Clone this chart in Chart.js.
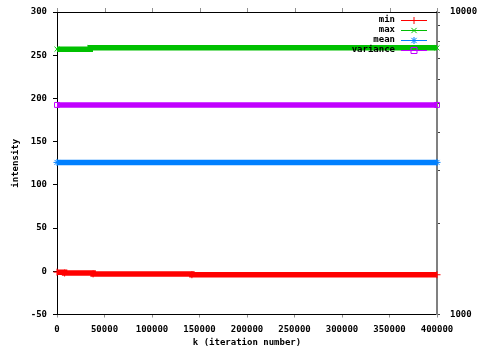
<!DOCTYPE html>
<html>
<head>
<meta charset="utf-8">
<style>
  html, body { margin: 0; padding: 0; background: #fff; }
  canvas { display: block; }
</style>
<script src="https://cdn.jsdelivr.net/npm/chart.js@4.4.1/dist/chart.umd.min.js"></script>
</head>
<body>
<canvas id="c" width="480" height="353"></canvas>
<script>
// Per-iteration intensity statistics (step changes at the listed iterations)
const minIter = [0, 8000, 38000, 142000, 400000];
const minVals = [-1, -2, -3, -4, -4];
const maxIter = [0, 35000, 400000];
const maxVals = [257, 258.5, 258.5];
const meanIter = [0, 400000];
const meanVals = [126, 126];
const varIter = [0, 400000];
const varVals = [4930, 4930];

const seriesLabels = ['min', 'max', 'mean', 'variance'];
const seriesColors = ['#ff0000', '#00c000', '#0080ff', '#c000ff'];
const seriesMarkers = ['cross', 'crossRot', 'star', 'rect'];

const xTickValues = [0, 50000, 100000, 150000, 200000, 250000, 300000, 350000, 400000];
const yTickValues = [-50, 0, 50, 100, 150, 200, 250, 300];
const y2TickValues = [1000, 2000, 3000, 4000, 5000, 6000, 7000, 8000, 9000, 10000];
const y2LabelValues = [1000, 10000];

const FONT = 'DejaVu Sans Mono';
Chart.defaults.font.family = FONT;
Chart.defaults.font.size = 9;
Chart.defaults.font.weight = 'bold';
Chart.defaults.color = '#000';

function pts(xs, ys) { return xs.map((x, i) => ({ x: x, y: ys[i] })); }

function drawMarker(ctx, style, x, y, r) {
  ctx.beginPath();
  if (style === 'cross' || style === 'star') {
    ctx.moveTo(x - r, y); ctx.lineTo(x + r, y);
    ctx.moveTo(x, y - r); ctx.lineTo(x, y + r);
  }
  if (style === 'crossRot' || style === 'star') {
    const d = r * 0.75;
    ctx.moveTo(x - d, y - d); ctx.lineTo(x + d, y + d);
    ctx.moveTo(x - d, y + d); ctx.lineTo(x + d, y - d);
  }
  if (style === 'rect') {
    ctx.rect(x - r + 0.5, y - r + 0.5, 2 * r - 1, 2 * r - 1);
  }
  ctx.stroke();
}

// Key in the upper right: label, then a line sample with its marker
const keyPlugin = {
  id: 'keyBox',
  afterDraw(chart) {
    const ctx = chart.ctx;
    ctx.save();
    ctx.font = 'bold 9px "' + FONT + '"';
    ctx.textAlign = 'right';
    ctx.textBaseline = 'middle';
    chart.data.datasets.forEach((ds, i) => {
      const y = 20 + i * 10;
      ctx.fillStyle = '#000';
      ctx.fillText(ds.label, 395, y);
      ctx.strokeStyle = ds.borderColor;
      ctx.lineWidth = 1;
      ctx.beginPath();
      ctx.moveTo(401, y + 0.5); ctx.lineTo(427, y + 0.5);
      ctx.stroke();
      drawMarker(ctx, ds.pointStyle, 414, y + 0.5, 3.5);
    });
    ctx.restore();
  }
};

// Top border with mirrored x tick marks
const frameTop = {
  id: 'frameTop',
  afterDraw(chart) {
    const { ctx, chartArea } = chart;
    const xs = chart.scales.x;
    ctx.save();
    ctx.strokeStyle = '#000';
    ctx.lineWidth = 1;
    ctx.beginPath();
    ctx.moveTo(chartArea.left, chartArea.top + 0.5);
    ctx.lineTo(chartArea.right, chartArea.top + 0.5);
    ctx.stroke();
    ctx.strokeStyle = '#909090';
    ctx.beginPath();
    xTickValues.forEach(v => {
      const px = Math.round(xs.getPixelForValue(v)) + 0.5;
      ctx.moveTo(px, chartArea.top);
      ctx.lineTo(px, chartArea.top - 4);
    });
    ctx.stroke();
    ctx.restore();
  }
};

// Fixed axis box sizes so the plot frame stays put
function fixBox(w, h) {
  return s => {
    if (w != null) s.width = w;
    if (h != null) s.height = h;
    s.paddingTop = 0; s.paddingBottom = 0;
    s.paddingLeft = 0; s.paddingRight = 0;
  };
}

const datasets = [
  [minIter, minVals, 'y'],
  [maxIter, maxVals, 'y'],
  [meanIter, meanVals, 'y'],
  [varIter, varVals, 'y2']
].map((s, i) => ({
  label: seriesLabels[i],
  data: pts(s[0], s[1]),
  yAxisID: s[2],
  borderColor: seriesColors[i],
  backgroundColor: 'rgba(0,0,0,0)',
  borderWidth: 5.5,
  stepped: 'before',
  pointStyle: seriesMarkers[i],
  pointRadius: 3.5,
  pointBorderWidth: 1,
  pointBorderColor: seriesColors[i],
  pointBackgroundColor: 'rgba(0,0,0,0)',
  clip: false
}));

new Chart(document.getElementById('c'), {
  type: 'line',
  data: { datasets: datasets },
  plugins: [frameTop, keyPlugin],
  options: {
    responsive: false,
    animation: false,
    devicePixelRatio: 1,
    layout: { padding: { top: 12, left: 0, right: 0, bottom: 0 } },
    plugins: { legend: { display: false }, tooltip: { enabled: false } },
    scales: {
      x: {
        type: 'linear',
        min: 0, max: 400000,
        afterBuildTicks: s => { s.ticks = xTickValues.map(v => ({ value: v })); },
        afterFit: fixBox(null, 38.5),
        ticks: { padding: 7, maxRotation: 0, autoSkip: false, callback: v => String(v) },
        grid: { drawOnChartArea: false, tickLength: 3, color: '#909090' },
        border: { color: '#000', width: 1 },
        title: { display: true, text: 'k (iteration number)', padding: { top: 0, bottom: 5 } }
      },
      y: {
        type: 'linear',
        position: 'left',
        min: -50, max: 300,
        afterBuildTicks: s => { s.ticks = yTickValues.map(v => ({ value: v })); },
        afterFit: fixBox(57, null),
        ticks: { padding: 6, callback: v => String(v) },
        grid: { drawOnChartArea: false, tickLength: 4, color: '#000' },
        border: { color: '#000', width: 1 },
        title: { display: true, text: 'intensity', padding: { top: 10, bottom: 0 } }
      },
      y2: {
        type: 'logarithmic',
        position: 'right',
        min: 1000, max: 10000,
        afterBuildTicks: s => { s.ticks = y2TickValues.map(v => ({ value: v })); },
        afterFit: fixBox(43, null),
        ticks: {
          padding: 10,
          autoSkip: false,
          callback: v => (y2LabelValues.includes(v) ? String(v) : '')
        },
        grid: { drawOnChartArea: false, tickLength: 3, color: '#404040' },
        border: { color: '#808080', width: 2 }
      }
    }
  }
});
</script>
</body>
</html>
